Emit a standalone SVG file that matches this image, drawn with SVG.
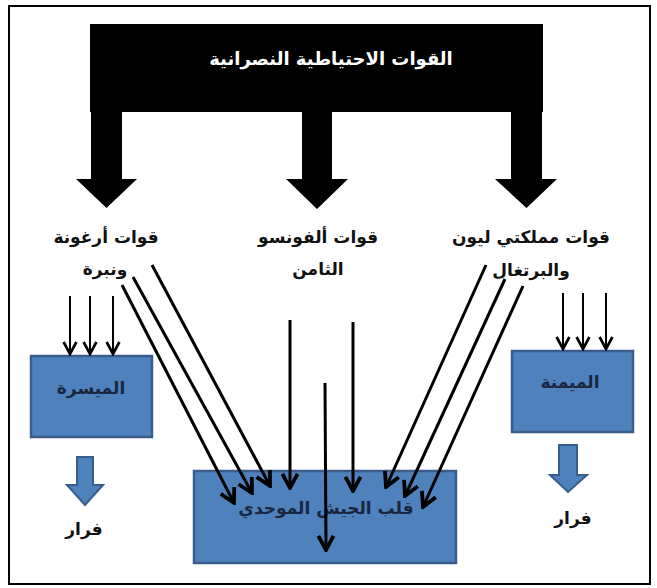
<svg xmlns="http://www.w3.org/2000/svg" width="657" height="588" viewBox="0 0 657 588">
<defs>
<style>
.lbl{font-family:"DejaVu Sans","Noto Sans",sans-serif;font-weight:bold;font-size:17px;fill:#111;text-anchor:middle}
.box{fill:#4F81BD;stroke:#385D8A;stroke-width:2.5}
.btx{font-family:"DejaVu Sans","Noto Sans",sans-serif;font-weight:bold;font-size:17px;fill:#1a2640;text-anchor:middle}
.ln{stroke:#000;stroke-width:3;fill:none;marker-end:url(#ah)}
.sm{stroke:#000;stroke-width:2;fill:none;marker-end:url(#ahs)}
.blk{fill:#4F81BD;stroke:#385D8A;stroke-width:2}
</style>
<marker id="ah" viewBox="0 0 12 12" refX="10.5" refY="6" markerWidth="6.3" markerHeight="6.3" orient="auto" markerUnits="strokeWidth">
<path d="M1.5,1.2 L10.5,6 L1.5,10.8" fill="none" stroke="#000" stroke-width="2.4"/>
</marker>
<marker id="ahs" viewBox="0 0 12 12" refX="10.5" refY="6" markerWidth="8" markerHeight="8" orient="auto" markerUnits="strokeWidth">
<path d="M1.5,1.2 L10.5,6 L1.5,10.8" fill="none" stroke="#000" stroke-width="2"/>
</marker>
</defs>
<rect x="0" y="0" width="657" height="588" fill="#fff"/>
<rect x="9" y="6" width="641" height="578" fill="none" stroke="#000" stroke-width="2"/>

<g id="reserves">
<rect x="90" y="24" width="453" height="88" fill="#000"/>
<path d="M91,111 H122 V179 H137 L106.5,208 L76,179 H91 Z" fill="#000"/>
<path d="M302,111 H332 V179 H348 L317,209 L286,179 H302 Z" fill="#000"/>
<path d="M511,111 H542 V179 H557 L526.5,208 L495,179 H511 Z" fill="#000"/>
<text x="331" y="65" font-family="DejaVu Sans,sans-serif" font-weight="bold" font-size="18" fill="#fff" text-anchor="middle">القوات الاحتياطية النصرانية</text>
</g>

<g id="aragon">
<text class="lbl" x="106" y="243">قوات أرغونة</text>
<text class="lbl" x="105" y="275">ونبرة</text>
</g>
<g id="alfonso">
<text class="lbl" x="318" y="243">قوات ألفونسو</text>
<text class="lbl" x="318" y="275">الثامن</text>
</g>
<g id="leon">
<text class="lbl" x="531" y="243">قوات مملكتي ليون</text>
<text class="lbl" x="531" y="276">والبرتغال</text>
</g>

<g id="left-wing">
<rect class="box" x="31" y="356" width="121" height="81"/>
<text class="btx" x="91" y="394">الميسرة</text>
</g>
<g id="right-wing">
<rect class="box" x="512" y="351" width="121" height="81"/>
<text class="btx" x="570" y="388">الميمنة</text>
</g>
<g id="center">
<rect class="box" x="194" y="471" width="262" height="92"/>
<text class="btx" x="326" y="514">قلب الجيش الموحدي</text>
</g>

<g id="flee-left">
<path class="blk" d="M77,457 H93 V485 H103 L85,505 L67,485 H77 Z"/>
<text class="lbl" x="84" y="535">فرار</text>
</g>
<g id="flee-right">
<path class="blk" d="M559,445 H577 V475 H587 L568,492 L550,475 H559 Z"/>
<text class="lbl" x="573" y="524">فرار</text>
</g>

<g id="connectors">
<line class="sm" x1="70" y1="296" x2="70" y2="354"/>
<line class="sm" x1="90" y1="296" x2="90" y2="354"/>
<line class="sm" x1="113" y1="296" x2="113" y2="354"/>
<line class="sm" x1="563" y1="293" x2="563" y2="349"/>
<line class="sm" x1="583" y1="293" x2="583" y2="349"/>
<line class="sm" x1="606" y1="293" x2="606" y2="349"/>
<line class="ln" x1="122" y1="285" x2="234" y2="503"/>
<line class="ln" x1="133" y1="277" x2="252" y2="493"/>
<line class="ln" x1="152" y1="265" x2="270" y2="486"/>
<line class="ln" x1="290" y1="320" x2="290" y2="488"/>
<line class="ln" x1="353" y1="322" x2="353" y2="491"/>
<line class="ln" x1="325" y1="383" x2="326" y2="550"/>
<line class="ln" x1="486" y1="265" x2="386" y2="487"/>
<line class="ln" x1="505" y1="279" x2="405" y2="496"/>
<line class="ln" x1="523" y1="286" x2="423" y2="507"/>
</g>
</svg>
